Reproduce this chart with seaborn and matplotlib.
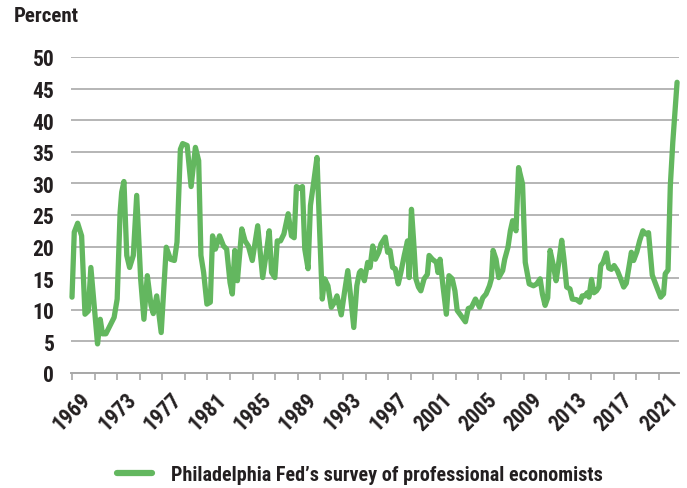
import matplotlib
matplotlib.use('Agg')
import matplotlib.pyplot as plt
from matplotlib import font_manager as fm
import seaborn as sns
import pandas as pd

# ---- data (year, percent) ----
dates = [1969.0, 1969.2, 1969.5, 1969.85, 1970.15, 1970.44, 1970.67, 1971.26, 1971.5, 1971.7,
         1972.0, 1972.37, 1972.73, 1973.0, 1973.26, 1973.4, 1973.6, 1973.85, 1974.1, 1974.43,
         1974.73, 1975.08, 1975.37, 1975.67, 1976.0, 1976.2, 1976.5, 1976.9, 1977.35, 1977.72,
         1978.07, 1978.3, 1978.6, 1978.8, 1979.2, 1979.55, 1979.93, 1980.22, 1980.42, 1980.66,
         1980.95, 1981.25, 1981.45, 1981.7, 1982.07, 1982.42, 1982.7, 1983.0, 1983.2, 1983.42,
         1983.65, 1984.04, 1984.33, 1984.62, 1984.97, 1985.45, 1985.89, 1986.18, 1986.47, 1986.68,
         1986.97, 1987.18, 1987.47, 1987.77, 1988.15, 1988.44, 1988.68, 1988.88, 1989.18, 1989.41,
         1989.62, 1989.91, 1990.12, 1990.41, 1990.7, 1990.94, 1991.17, 1991.38, 1991.67, 1991.97,
         1992.26, 1992.47, 1992.85, 1993.14, 1993.43, 1993.64, 1993.96, 1994.23, 1994.46, 1994.6,
         1994.9, 1995.19, 1995.4, 1995.64, 1995.87, 1996.17, 1996.37, 1996.75, 1996.96, 1997.17,
         1997.4, 1997.63, 1997.9, 1998.13, 1998.43, 1998.72, 1998.87, 1999.07, 1999.25, 1999.46,
         1999.69, 1999.9, 2000.19, 2000.48, 2000.63, 2000.92, 2001.28, 2001.42, 2001.6, 2001.86,
         2002.16, 2002.39, 2002.68, 2002.92, 2003.12, 2003.45, 2003.85, 2004.1, 2004.39, 2004.74,
         2005.1, 2005.39, 2005.68, 2005.98, 2006.15, 2006.3, 2006.56, 2006.8, 2007.15, 2007.33,
         2007.62, 2007.83, 2008.03, 2008.33, 2008.56, 2008.91, 2009.15, 2009.5, 2009.88, 2010.17,
         2010.47, 2010.67, 2010.91, 2011.14, 2011.35, 2011.64, 2011.88, 2012.08, 2012.38, 2012.58,
         2012.82, 2013.11, 2013.32, 2013.7, 2014.0, 2014.2, 2014.43, 2014.64, 2014.79, 2015.02,
         2015.23, 2015.46, 2015.67, 2015.84, 2016.05, 2016.34, 2016.55, 2016.78, 2017.02, 2017.31,
         2017.6, 2017.87, 2018.1, 2018.31, 2018.55, 2018.75, 2019.04, 2019.28, 2019.57, 2019.81,
         2020.07, 2020.4, 2020.8, 2021.15, 2021.4, 2021.55, 2021.8, 2022.0, 2022.22, 2022.6]

values = [12.0, 22.3, 23.7, 21.7, 9.3, 9.8, 16.7, 4.6, 8.5, 6.2,
          6.2, 7.5, 8.8, 11.7, 25.4, 28.6, 30.3, 18.6, 16.7, 18.6,
          28.1, 14.9, 8.5, 15.4, 10.7, 9.4, 12.2, 6.4, 19.9, 18.0,
          17.8, 20.7, 35.4, 36.3, 36.0, 29.5, 35.7, 33.6, 18.6, 15.9,
          10.9, 11.2, 21.7, 19.6, 21.7, 20.1, 19.6, 14.3, 12.5, 19.4,
          14.6, 22.8, 20.9, 20.1, 17.8, 23.3, 15.1, 18.6, 22.5, 15.9,
          15.1, 20.9, 20.9, 22.0, 25.2, 21.7, 21.4, 29.5, 29.2, 29.5,
          19.6, 16.5, 26.5, 30.2, 34.1, 22.3, 11.7, 14.9, 13.8, 10.4,
          11.2, 12.2, 9.2, 12.8, 16.2, 12.8, 7.2, 13.8, 15.9, 16.2,
          14.6, 17.5, 16.7, 20.1, 18.0, 19.1, 20.4, 21.5, 19.1, 19.4,
          16.7, 16.5, 14.1, 15.9, 18.6, 20.9, 15.1, 25.9, 21.2, 14.9,
          13.6, 13.0, 14.9, 15.6, 18.6, 18.0, 17.5, 15.9, 18.0, 13.8,
          9.3, 15.4, 14.9, 13.0, 9.9, 9.1, 8.1, 10.2, 10.4, 11.7,
          10.4, 11.9, 12.5, 13.8, 14.9, 19.4, 18.0, 15.1, 16.2, 18.0,
          19.9, 22.5, 24.1, 22.5, 32.5, 29.9, 17.5, 14.1, 13.8, 14.1,
          14.9, 12.5, 10.7, 11.9, 19.4, 17.0, 14.6, 17.0, 21.0, 18.0,
          13.6, 13.3, 11.7, 11.6, 11.2, 12.2, 12.2, 12.7, 12.0, 14.8,
          12.7, 13.0, 13.6, 17.0, 17.5, 19.0, 16.6, 16.4, 17.0, 16.2,
          14.9, 13.6, 14.2, 16.5, 19.1, 17.8, 19.2, 20.9, 22.5, 22.0,
          22.2, 15.5, 13.6, 12.0, 12.5, 15.7, 16.3, 29.6, 36.5, 46.0]

tick_years = list(range(1969, 2023, 2))
label_years = [1969, 1973, 1977, 1981, 1985, 1989, 1993, 1997, 2001, 2005, 2009, 2013, 2017, 2021]
y_ticks = [0, 5, 10, 15, 20, 25, 30, 35, 40, 45, 50]
y_label = "Percent"
series_name = "Philadelphia Fed\u2019s survey of professional economists"


# ---- pick a condensed bold font if one is installed ----
def pick_font():
    best = None
    best_score = -1
    for f in fm.fontManager.ttflist:
        name = f.name.lower()
        path = f.fname.lower()
        try:
            w = int(f.weight)
        except (TypeError, ValueError):
            w = 700 if 'bold' in str(f.weight) else 400
        if w < 600 or 'italic' in path or 'oblique' in path or f.style != 'normal':
            continue
        narrow = ('narrow' in name or 'condensed' in name or 'narrow' in path
                  or 'condensed' in path or f.stretch in ('condensed', 'semi-condensed'))
        if not narrow:
            continue
        score = 1
        if 'liberation' in name:
            score = 5
        elif 'roboto' in name:
            score = 4
        elif 'open sans' in name:
            score = 3
        elif 'dejavu' in name:
            score = 2
        if w > 700:
            score -= 0.5
        if score > best_score:
            best, best_score = f.fname, score
    return best


font_path = pick_font()

sns.set_theme(style='white')
if font_path:
    def FP(size):
        return fm.FontProperties(fname=font_path, size=size)
    SIZE_TICK, SIZE_LEG, SIZE_TITLE = 15.5, 14.5, 15
else:
    plt.rcParams['font.family'] = ['Liberation Sans', 'DejaVu Sans']
    def FP(size):
        return fm.FontProperties(family=['Liberation Sans', 'DejaVu Sans'], weight='bold', size=size)
    SIZE_TICK, SIZE_LEG, SIZE_TITLE = 12.5, 12, 13

GREEN = '#63b75f'
TEXT = '#231f20'
GRID = '#b5b5b5'

W, H = 687, 489
fig = plt.figure(figsize=(W / 100, H / 100), dpi=100)
ax = fig.add_axes([71 / W, 1 - 374 / H, (679 - 71) / W, (374 - 58) / H])

df = pd.DataFrame({'date': dates, 'pct': values})
sns.lineplot(data=df, x='date', y='pct', ax=ax, color=GREEN, linewidth=3.8,
             sort=False, legend=False)
for ln in ax.lines:
    ln.set_clip_on(False)
    ln.set_solid_capstyle('round')
    ln.set_solid_joinstyle('round')

ax.set_xlim(1968.91, 2022.77)
ax.set_ylim(0, 50)
ax.set_xlabel('')
ax.set_ylabel('')

ax.set_yticks(y_ticks)
ax.set_yticklabels([str(v) for v in y_ticks])
ax.yaxis.grid(True, color=GRID, linewidth=1.4)
ax.xaxis.grid(False)
ax.set_axisbelow(True)

for s in ['left', 'top', 'right']:
    ax.spines[s].set_visible(False)
ax.spines['bottom'].set_color('#a8a8a8')
ax.spines['bottom'].set_linewidth(1.4)

ax.set_xticks(tick_years)
ax.set_xticklabels([str(y) if y in label_years else '' for y in tick_years])
ax.tick_params(axis='y', length=0, pad=12, labelcolor=TEXT)
ax.tick_params(axis='x', length=5, width=1.2, color='#a8a8a8', direction='out',
               bottom=True, pad=6, labelcolor=TEXT)
for lbl in ax.get_yticklabels():
    lbl.set_fontproperties(FP(SIZE_TICK))
for lbl in ax.get_xticklabels():
    lbl.set_fontproperties(FP(SIZE_TICK))
    lbl.set_rotation(45)
    lbl.set_ha('center')
    lbl.set_va('top')

fig.text(14 / W, 1 - 16 / H, y_label, fontproperties=FP(SIZE_TITLE), color=TEXT,
         ha='left', va='center')

# legend
handle = plt.Line2D([], [], color=GREEN, linewidth=4.5, solid_capstyle='round')
leg = fig.legend([handle], [series_name], loc='center', bbox_to_anchor=(360 / W, 1 - 476 / H),
                 frameon=False, prop=FP(SIZE_LEG), handlelength=1.75, handletextpad=0.95)
for t in leg.get_texts():
    t.set_color(TEXT)

fig.savefig('out.png', dpi=100)
